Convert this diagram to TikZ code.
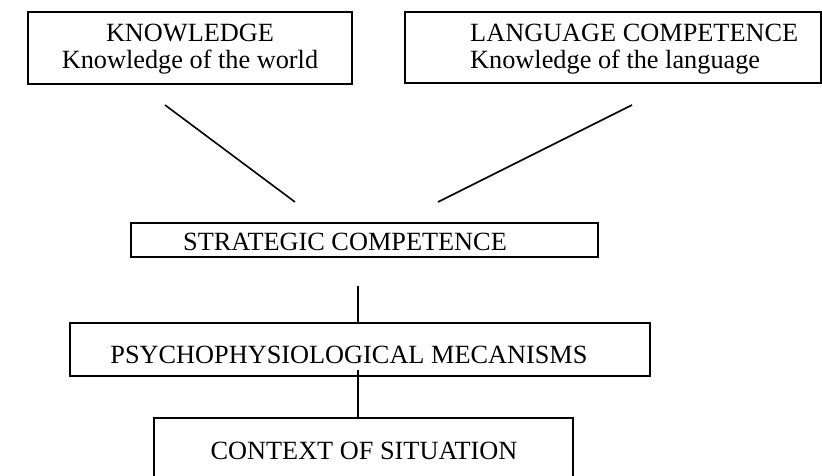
\documentclass[tikz,border=0pt]{standalone}
\usepackage{fontspec}
\setmainfont{Liberation Serif}
\usetikzlibrary{positioning}

\begin{document}
\begin{tikzpicture}[x=1pt,y=-1pt,
 box/.style={draw,line width=2.7pt,inner sep=0pt},
 txt/.style={inner sep=0pt,font=\fontsize{26.3}{26.5}\selectfont},
 con/.style={line width=1.6pt}]
 \useasboundingbox (0,0) rectangle (822,476);
 % top row
 \node[box,minimum width=324pt,minimum height=72pt] (know) at (190,48) {};
 \node[txt,align=center,anchor=base] (knowtxt) at (190,68.5) {KNOWLEDGE\\Knowledge of the world};
 \node[box,minimum width=416pt,minimum height=71pt] (lang) at (613,47.5) {};
 \node[txt,align=left,anchor=base west] (langtxt) at (470,68.5) {LANGUAGE COMPETENCE\\Knowledge of the language};
 % strategic
 \node[box,minimum width=467pt,minimum height=34pt] (strat) at (364.5,240) {};
 \node[txt,anchor=base] (strattxt) at (345,250) {STRATEGIC COMPETENCE};
 % psycho
 \node[box,minimum width=580pt,minimum height=53pt] (psy) at (360,349.5) {};
 \node[txt,anchor=base] (psytxt) at (349,363) {PSYCHOPHYSIOLOGICAL MECANISMS};
 % context
 \node[box,minimum width=419pt,minimum height=80pt] (ctx) at (363.5,458) {};
 \node[txt,anchor=base] (ctxtxt) at (364,459) {CONTEXT OF SITUATION};
 % connectors
 \coordinate (k1) at (165,105);
 \coordinate (k2) at (295,202);
 \coordinate (l1) at (632,105);
 \coordinate (l2) at (438,202);
 \draw[con] (k1) -- (k2);
 \draw[con] (l1) -- (l2);
 \draw[con] (strat.south -| 358,0) ++(0,28) coordinate (s1) -- (s1 |- psy.north);
 \draw[con] (358,370) coordinate (p1) -- (p1 |- ctx.north);
\end{tikzpicture}
\end{document}
